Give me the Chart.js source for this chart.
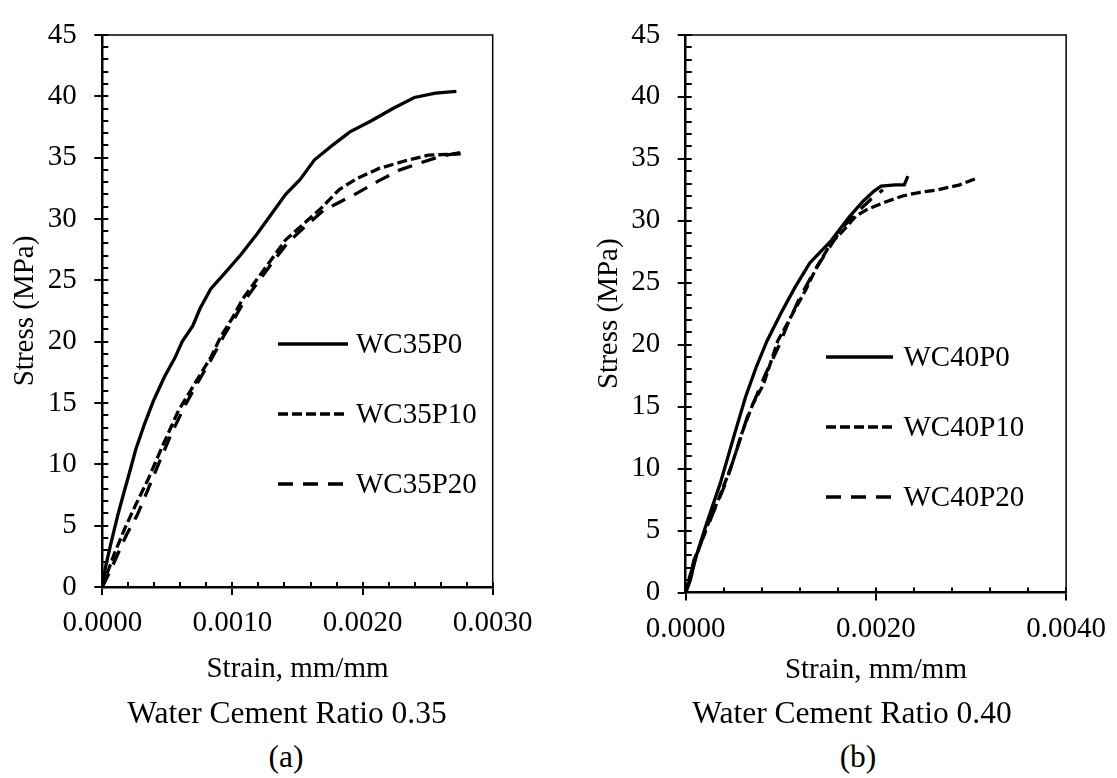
<!DOCTYPE html>
<html>
<head>
<meta charset="utf-8">
<script src="https://cdn.jsdelivr.net/npm/chart.js@4.4.0/dist/chart.umd.min.js"></script>
<style>
html,body{margin:0;padding:0;background:#fff;width:1117px;height:778px;overflow:hidden;}
#wrap{position:relative;width:1117px;height:778px;}
canvas{position:absolute;top:0;}
.cap{position:absolute;font-family:'Liberation Serif','Times New Roman',serif;font-size:31.5px;color:#000;white-space:nowrap;transform:translate(-50%,-50%);line-height:1;}
</style>
</head>
<body>
<div id="wrap">
<canvas id="ca" width="558" height="700" style="left:0;width:558px;height:700px"></canvas>
<canvas id="cb" width="559" height="700" style="left:558px;width:559px;height:700px"></canvas>
<div class="cap" style="left:287px;top:713px">Water Cement Ratio 0.35</div>
<div class="cap" style="left:286px;top:757px">(a)</div>
<div class="cap" style="left:852px;top:713px">Water Cement Ratio 0.40</div>
<div class="cap" style="left:858px;top:757px">(b)</div>
</div>
<script>
// ---------- DATA ----------
// Panel (a): Water Cement Ratio 0.35
const wc35p0Strain = [0, 0.000024, 0.000065, 0.00012, 0.000161, 0.000216, 0.000257, 0.000325, 0.000394, 0.000476, 0.000559, 0.000614, 0.000696, 0.000751, 0.000833, 0.000943, 0.001066, 0.00119, 0.0013, 0.001409, 0.001519, 0.001629, 0.00178, 0.001903, 0.002068, 0.002233, 0.002398, 0.00256, 0.002721];
const wc35p0Stress = [0, 1.6, 3.5, 5.9, 7.5, 9.6, 11.2, 13.3, 15.2, 17.1, 18.7, 20.0, 21.3, 22.7, 24.3, 25.6, 27.1, 28.8, 30.4, 32.0, 33.2, 34.8, 36.1, 37.1, 38.0, 39.0, 39.9, 40.25, 40.4];

const wc35p10Strain = [0, 0.000037, 0.000092, 0.000174, 0.000257, 0.000353, 0.000463, 0.000586, 0.000627, 0.000723, 0.000833, 0.000915, 0.000998, 0.00108, 0.00119, 0.0013, 0.001409, 0.001547, 0.001684, 0.001821, 0.001958, 0.002123, 0.002315, 0.002507, 0.002754];
const wc35p10Stress = [0, 1.1, 2.7, 4.8, 6.7, 8.8, 11.5, 14.4, 15.1, 16.8, 18.7, 20.5, 21.9, 23.5, 25.1, 26.7, 28.3, 29.6, 30.9, 32.4, 33.3, 34.1, 34.7, 35.2, 35.3];

const wc35p20Strain = [0, 0.000051, 0.00012, 0.000188, 0.00027, 0.000353, 0.000435, 0.000531, 0.000641, 0.000735, 0.00084, 0.00093, 0.00101, 0.00109, 0.0012, 0.00131, 0.00142, 0.00156, 0.0017, 0.001793, 0.001958, 0.002123, 0.002288, 0.002452, 0.0026, 0.00275];
const wc35p20Stress = [0, 1.1, 2.7, 4.3, 5.9, 8.0, 10.1, 12.5, 14.9, 16.7, 18.6, 20.4, 21.8, 23.3, 24.9, 26.5, 28.0, 29.4, 30.7, 31.2, 32.1, 33.1, 34.0, 34.6, 35.1, 35.4];

// Panel (b): Water Cement Ratio 0.40
const wc40p0Strain = [0, 0.000049, 0.000105, 0.000217, 0.000367, 0.000518, 0.00063, 0.000742, 0.000855, 0.001005, 0.001155, 0.001305, 0.00153, 0.001718, 0.001868, 0.00198, 0.002055, 0.002205, 0.002298, 0.002336];
const wc40p0Stress = [0, 1.0, 2.8, 5.5, 8.9, 12.9, 15.8, 18.2, 20.3, 22.6, 24.7, 26.6, 28.4, 30.3, 31.6, 32.4, 32.8, 32.9, 32.9, 33.6];

const wc40p10Strain = [0, 0.00003, 0.000105, 0.000217, 0.000349, 0.00048, 0.000593, 0.000705, 0.000818, 0.000968, 0.001117, 0.001267, 0.00138, 0.00153, 0.00168, 0.001792, 0.001905, 0.002092, 0.00228, 0.002467, 0.002655, 0.00288, 0.003048];
const wc40p10Stress = [0, 1.0, 2.8, 5.2, 7.6, 10.2, 12.9, 15.2, 16.8, 20.3, 22.4, 24.5, 26.3, 28.2, 29.4, 30.4, 30.9, 31.5, 32.0, 32.3, 32.5, 32.9, 33.4];

const wc40p20Strain = [0, 0.00003, 0.000086, 0.000181, 0.000293, 0.000424, 0.000536, 0.000649, 0.000724, 0.000837, 0.000968, 0.00108, 0.001193, 0.001343, 0.001474, 0.001642, 0.001792, 0.001942, 0.002074];
const wc40p20Stress = [0, 0.7, 2.6, 4.4, 6.5, 8.9, 11.5, 14.2, 15.5, 17.6, 19.7, 21.8, 23.7, 25.8, 27.4, 29.4, 30.6, 31.7, 32.5];

const labelsA = ['WC35P0', 'WC35P10', 'WC35P20'];
const labelsB = ['WC40P0', 'WC40P10', 'WC40P20'];
const yTitle = 'Stress (MPa)';
const xTitle = 'Strain, mm/mm';

// ---------- STYLE ----------
const FONT = "'Liberation Serif','Times New Roman',serif";
const dashes = [[], [10, 4], [15, 10]];
Chart.defaults.color = '#000';
Chart.defaults.font.family = FONT;

function pts(xs, ys) { return xs.map((x, i) => ({x: x, y: ys[i]})); }

const innerTicks = {
  id: 'innerTicks',
  afterDraw(chart, args, opts) {
    const {ctx, chartArea: a, scales: {x, y}} = chart;
    ctx.save();
    ctx.strokeStyle = '#000';
    ctx.setLineDash([]);
    ctx.lineWidth = 1.5;
    ctx.beginPath();
    ctx.moveTo(a.left, a.top); ctx.lineTo(a.right, a.top); ctx.lineTo(a.right, a.bottom);
    ctx.stroke();
    ctx.lineWidth = 2;
    ctx.beginPath();
    const ny = Math.round((y.max - y.min) / opts.yMinor);
    for (let i = 1; i <= ny; i++) {
      const p = Math.round(y.getPixelForValue(y.min + i * opts.yMinor));
      ctx.moveTo(a.left, p); ctx.lineTo(a.left + 6, p);
    }
    const nx = Math.round((x.max - x.min) / opts.xMinor);
    for (let i = 1; i <= nx; i++) {
      const p = Math.round(x.getPixelForValue(x.min + i * opts.xMinor));
      ctx.moveTo(p, a.bottom); ctx.lineTo(p, a.bottom - 5);
    }
    ctx.stroke();
    ctx.restore();
  }
};

const innerLegend = {
  id: 'innerLegend',
  afterDraw(chart, args, opts) {
    const {ctx} = chart;
    ctx.save();
    ctx.font = '29px ' + FONT;
    ctx.textBaseline = 'middle';
    ctx.fillStyle = '#000';
    chart.data.datasets.forEach((ds, i) => {
      const yy = opts.ys[i];
      ctx.strokeStyle = ds.borderColor;
      ctx.lineWidth = 3.6;
      ctx.setLineDash(ds.borderDash || []);
      ctx.beginPath();
      ctx.moveTo(opts.x0, yy); ctx.lineTo(opts.x1, yy);
      ctx.stroke();
      ctx.setLineDash([]);
      ctx.fillText(ds.label, opts.tx, yy + 1);
    });
    ctx.restore();
  }
};

function makeChart(id, cfg) {
  const ds = cfg.series.map((s, i) => ({
    label: cfg.labels[i],
    data: pts(s[0], s[1]),
    showLine: true,
    borderColor: '#000',
    backgroundColor: '#000',
    borderWidth: 3.3,
    borderDash: dashes[i],
    borderCapStyle: 'butt',
    pointRadius: 0,
    tension: 0
  }));
  return new Chart(document.getElementById(id), {
    type: 'scatter',
    data: {datasets: ds},
    plugins: [innerTicks, innerLegend],
    options: {
      responsive: false,
      animation: false,
      devicePixelRatio: 1,
      layout: {padding: {left: 0, top: 24, right: cfg.padRight, bottom: 0}},
      plugins: {
        legend: {display: false},
        tooltip: {enabled: false},
        innerTicks: {yMinor: 1, xMinor: cfg.xMinor},
        innerLegend: cfg.legend
      },
      scales: {
        x: {
          type: 'linear', min: 0, max: cfg.xMax,
          ticks: {stepSize: cfg.xStep, callback: v => Number(v).toFixed(4), font: {size: 29, family: FONT}, color: '#000', padding: 11, maxRotation: 0, autoSkip: false},
          grid: {drawOnChartArea: false, drawTicks: true, tickLength: 8, color: '#000', lineWidth: 2},
          border: {display: true, color: '#000', width: 2.5},
          title: {display: true, text: xTitle, font: {size: 29, family: FONT}, color: '#000', padding: {top: 0, bottom: cfg.xTitlePad}},
          afterFit(s) { s.height = cfg.xHeight; }
        },
        y: {
          type: 'linear', min: 0, max: 45,
          ticks: {stepSize: 5, font: {size: 29, family: FONT}, color: '#000', padding: 17.5},
          grid: {drawOnChartArea: false, drawTicks: true, tickLength: 8, color: '#000', lineWidth: 2},
          border: {display: true, color: '#000', width: 2.5},
          title: {display: true, text: yTitle, font: {size: 29, family: FONT}, color: '#000', padding: {top: cfg.yTitlePad, bottom: 0}},
          afterFit(s) { s.width = cfg.yWidth; }
        }
      }
    }
  });
}

makeChart('ca', {
  labels: labelsA,
  series: [[wc35p0Strain, wc35p0Stress], [wc35p10Strain, wc35p10Stress], [wc35p20Strain, wc35p20Stress]],
  xMax: 0.003, xStep: 0.001, xMinor: 0.0002,
  yWidth: 102.3, xHeight: 113, padRight: 65.3,
  yTitlePad: 7.6, xTitlePad: 13.6,
  legend: {x0: 278, x1: 348, tx: 356, ys: [344, 414, 484]}
});

makeChart('cb', {
  labels: labelsB,
  series: [[wc40p0Strain, wc40p0Stress], [wc40p10Strain, wc40p10Stress], [wc40p20Strain, wc40p20Stress]],
  xMax: 0.004, xStep: 0.002, xMinor: 0.0004,
  yWidth: 127.7, xHeight: 107.5, padRight: 50.3,
  yTitlePad: 33.6, xTitlePad: 12.6,
  legend: {x0: 268, x1: 335, tx: 345.5, ys: [357, 427, 497]}
});
</script>
</body>
</html>
